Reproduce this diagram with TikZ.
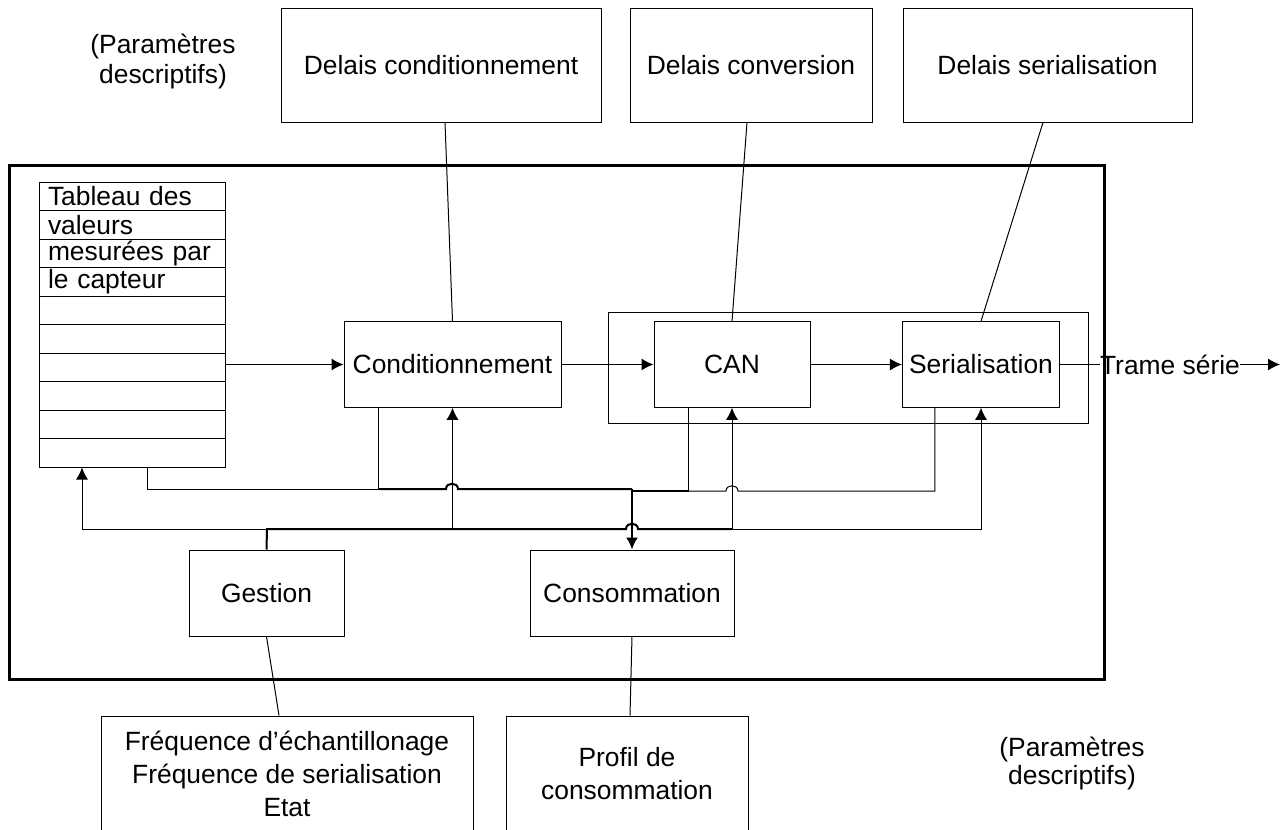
\documentclass[tikz,border=0pt]{standalone}
\usepackage{fontspec}
\setmainfont{Liberation Sans}
\usetikzlibrary{arrows.meta}

\begin{document}
\begin{tikzpicture}[x = 0.5pt, y = -0.5pt, > = {Latex[length = 6pt, width = 6pt]},
	every node/.style = {font = \fontsize{13.2pt}{16.5pt}\selectfont},
	block/.style = {draw, line width = 0.5pt, minimum height = 42.75pt},
	param/.style = {draw, line width = 0.5pt, align = center},
	cell/.style = {draw, line width = 0.5pt, minimum height = 14.25pt, text width = 84pt, inner xsep = 4.5pt, inner ysep = 0pt, align = left},
	wire/.style = {line width = 0.5pt},
	bus/.style = {line width = 1pt}]

	\useasboundingbox (0, 0) rectangle (1287, 830);
	\clip (0, 0) rectangle (1287, 830);

	% Descriptive parameters (top)

	\node [align = center, font = \fontsize{13.2pt}{15pt}\selectfont] (desc1) at (163, 62) {(Paramètres\\descriptifs)};
	\node [param, minimum width = 160pt, minimum height = 57pt] (dcond) at (441, 65) {Delais conditionnement};
	\node [param, minimum width = 121pt, minimum height = 57pt] (dconv) at (751, 65) {Delais conversion};
	\node [param, minimum width = 144.5pt, minimum height = 57pt] (dser) at (1047.5, 65) {Delais serialisation};

	% Sensor

	\draw [line width = 1.5pt] (9, 165) rectangle (1104, 679);

	\foreach \i/\txt in {0/Tableau des, 1/valeurs, 2/mesurées par, 3/le capteur, 4/, 5/, 6/, 7/, 8/, 9/}
		\node [cell] (row\i) at (132, 196.25 + 28.5 * \i) {\txt};

	\node [block, minimum width = 108.5pt] (cond) at (452.5, 364.5) {Conditionnement};
	\draw [wire] (608, 312) rectangle (1088, 423);
	\node [block, minimum width = 78pt] (can) at (732, 364.5) {CAN};
	\node [block, minimum width = 78pt] (ser) at (981, 364.5) {Serialisation};
	\node [block, minimum width = 77.5pt, minimum height = 43pt] (gest) at (266.5, 593) {Gestion};
	\node [block, minimum width = 102pt, minimum height = 43pt] (conso) at (632, 593) {Consommation};

	% Data path

	\draw [wire, ->] (cond.west -| row0.east) -- (cond.west);
	\draw [wire, ->] (cond) -- (can);
	\draw [wire, ->] (can) -- (ser);
	\node [inner sep = 0pt] (trame) at (1170, 364.5) {Trame série};
	\coordinate (sortie) at (1280, 364.5);
	\draw [wire] (ser.east) -- (trame.west);
	\draw [wire, ->] (trame.east) -- (sortie);

	% Gestion commands

	\coordinate (gbus) at (267, 529);
	\draw [bus] (gest.north) -- (gbus) -- (626, 529) to [out = 90, in = 90, looseness = 1.5] (638, 529) -- (can.south |- gbus);
	\draw [wire, ->] (gbus) -| ([xshift = -25pt] row9.south);
	\draw [wire, ->] (cond.south |- gbus) -- (cond.south);
	\draw [wire, ->] (can.south |- gbus) -- (can.south);
	\draw [wire, ->] (can.south |- gbus) -| (ser.south);

	% Consumption

	\coordinate (pbus) at (632, 489);
	\coordinate (pbus2) at (632, 491);
	\coordinate (tdrop) at ([xshift = 7.5pt] row9.south);
	\coordinate (cdrop) at ([xshift = 17.5pt] cond.south west);
	\coordinate (adrop) at ([xshift = 17.5pt] can.south west);
	\coordinate (sdrop) at ([xshift = 16.5pt] ser.south west);

	\draw [wire] (tdrop) |- (cdrop |- pbus);
	\draw [wire] (cdrop) -- (cdrop |- pbus);
	\draw [bus] (cdrop |- pbus) -- (446, 489) to [out = 90, in = 90, looseness = 1.5] (458, 489) -- (pbus);
	\draw [wire] (adrop) -- (adrop |- pbus2);
	\draw [bus] (adrop |- pbus2) -- (pbus2);
	\draw [wire] (sdrop) |- (738, 491) to [out = 90, in = 90, looseness = 1.5] (726, 491) -- (adrop |- pbus2);
	\draw [bus, ->] (pbus) -- (conso.north);

	% Top links

	\draw [wire] ([xshift = 2pt] dcond.south) -- (cond.north);
	\draw [wire] ([xshift = -2pt] dconv.south) -- (can.north);
	\draw [wire] ([xshift = -2.25pt] dser.south) -- (ser.north);

	% Descriptive parameters (bottom)

	\node [param, minimum width = 186pt, minimum height = 58pt] (freq) at (287, 774) {Fréquence d’échantillonage\\Fréquence de serialisation\\Etat};
	\node [param, minimum width = 121pt, minimum height = 58pt] (profil) at (627, 774) {Profil de\\consommation};
	\node [align = center, font = \fontsize{13.2pt}{14pt}\selectfont] (desc2) at (1072, 764) {(Paramètres\\descriptifs)};

	\draw [wire] (gest.south) -- ([xshift = -4pt] freq.north);
	\draw [wire] (conso.south) -- ([xshift = 1.5pt] profil.north);

\end{tikzpicture}
\end{document}
